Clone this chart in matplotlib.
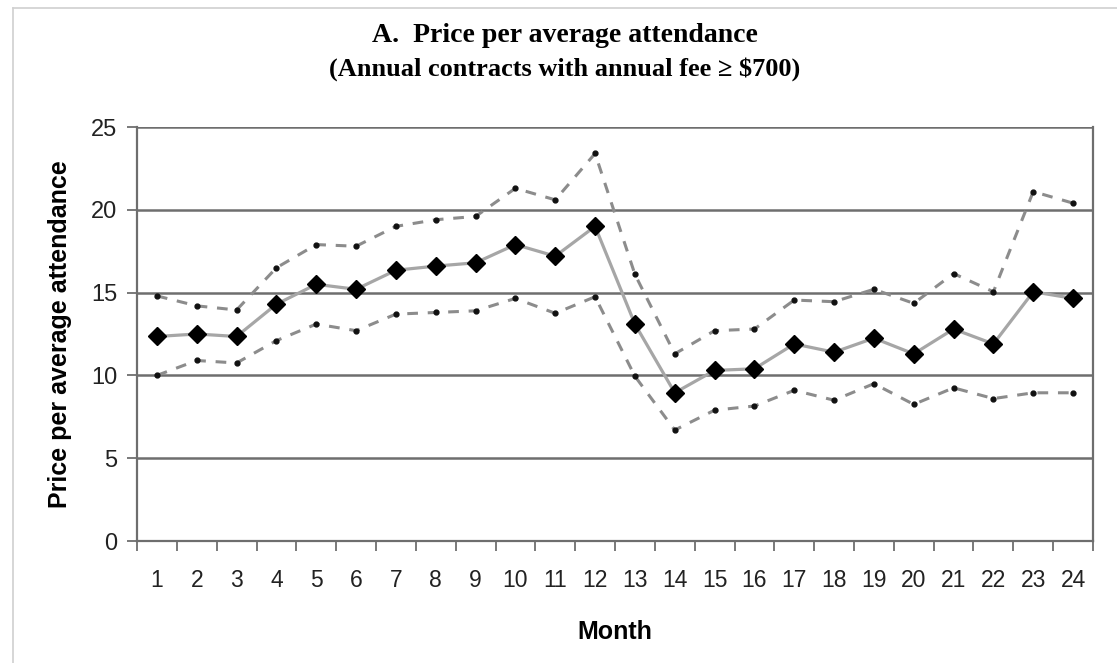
import matplotlib
matplotlib.use("Agg")
import matplotlib.pyplot as plt
from matplotlib.lines import Line2D

# Monthly price per average attendance
months = list(range(1, 25))
mean_price = [12.35, 12.5, 12.35, 14.3, 15.5, 15.2, 16.35, 16.6, 16.8, 17.9, 17.2, 19.0,
              13.1, 8.95, 10.3, 10.4, 11.9, 11.4, 12.25, 11.3, 12.8, 11.9, 15.05, 14.65]
upper_band = [14.8, 14.2, 13.95, 16.5, 17.9, 17.8, 19.0, 19.4, 19.6, 21.3, 20.6, 23.4,
              16.1, 11.3, 12.7, 12.8, 14.55, 14.45, 15.2, 14.35, 16.15, 15.05, 21.1, 20.4]
lower_band = [10.0, 10.9, 10.75, 12.1, 13.1, 12.7, 13.7, 13.8, 13.9, 14.65, 13.75, 14.75,
              9.95, 6.7, 7.9, 8.15, 9.1, 8.5, 9.5, 8.25, 9.25, 8.6, 8.95, 8.95]
y_ticks = [0, 5, 10, 15, 20, 25]

title_1 = "A.  Price per average attendance"
title_2 = "(Annual contracts with annual fee \u2265 $700)"

plt.rcParams['font.family'] = ['Liberation Sans', 'DejaVu Sans']

fig = plt.figure(figsize=(11.17, 6.63), dpi=100)
ax = fig.add_axes([137 / 1117, 1 - 541 / 663, 956 / 1117, 414 / 663])

# light frame around the picture (top and left edges visible)
fig.add_artist(Line2D([13 / 1117, 13 / 1117], [0, 1 - 8 / 663], transform=fig.transFigure,
                      color='#d0d0d0', lw=1.2))
fig.add_artist(Line2D([13 / 1117, 1], [1 - 8 / 663, 1 - 8 / 663], transform=fig.transFigure,
                      color='#d0d0d0', lw=1.2))

# horizontal grid
for v in y_ticks[1:]:
    ax.axhline(v, color='#6e6e6e', lw=1.8, zorder=1)

ax.plot(months, upper_band, color='#8c8c8c', lw=2.2, ls=(0, (3.5, 3.2)), zorder=2)
ax.plot(months, lower_band, color='#8c8c8c', lw=2.2, ls=(0, (3.5, 3.2)), zorder=2)
ax.plot(months, upper_band, ls='none', marker='o', ms=3.5, color='#111111', zorder=3)
ax.plot(months, lower_band, ls='none', marker='o', ms=3.5, color='#111111', zorder=3)
ax.plot(months, mean_price, color='#a6a6a6', lw=2.3, marker='D', ms=9,
        markerfacecolor='black', markeredgecolor='black', zorder=4)

ax.set_xlim(0.5, 24.5)
ax.set_ylim(0, 25)

ax.set_xticks(months)
ax.set_xticklabels([str(m) for m in months], fontsize=16.5, color='#222222')
ax.set_xticks([m - 0.5 for m in months] + [24.5], minor=True)
ax.tick_params(axis='x', which='major', length=0, pad=20)
ax.tick_params(axis='x', which='minor', length=7, width=1.3, color='#6e6e6e', direction='out')

ax.set_yticks(y_ticks)
ax.set_yticklabels([str(v) for v in y_ticks], fontsize=17, color='#222222')
ax.tick_params(axis='y', length=7, width=1.3, color='#6e6e6e', direction='out', pad=7)

for side in ['left', 'bottom', 'right']:
    ax.spines[side].set_color('#6e6e6e')
    ax.spines[side].set_linewidth(1.6)
ax.spines['top'].set_visible(False)

ax.set_xlabel("Month", fontsize=18, fontweight='bold')
ax.xaxis.set_label_coords(0.5, -0.19)
ax.set_ylabel("Price per average attendance", fontsize=18, fontweight='bold')
ax.yaxis.set_label_coords(-0.068, 0.5)

fig.text(565 / 1117, 1 - 42 / 663, title_1, ha='center', va='baseline',
         fontsize=20, fontweight='bold', family='Liberation Serif')
fig.text(565 / 1117, 1 - 76 / 663, title_2, ha='center', va='baseline',
         fontsize=19, fontweight='bold', family=['Liberation Serif', 'DejaVu Serif'])

fig.savefig("out.png", dpi=100)
